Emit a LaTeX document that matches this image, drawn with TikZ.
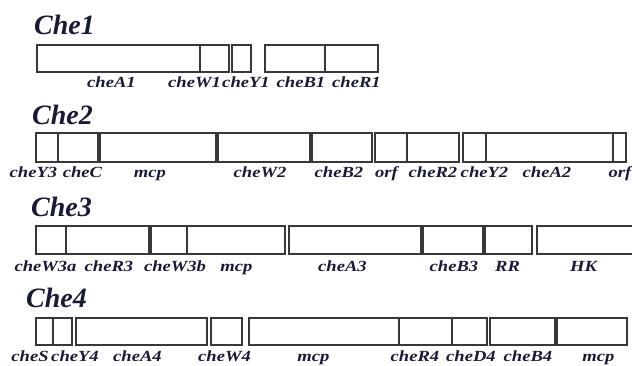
\documentclass[tikz,border=0pt]{standalone}
\usepackage{fontspec}
\setmainfont{Liberation Serif}
\usepackage{graphicx}
\definecolor{ink}{rgb}{0.1,0.1,0.22}
\definecolor{edge}{rgb}{0.22,0.22,0.22}
\tikzset{
  gene/.style={draw=edge, line width=1.4pt, fill=white},
  lab/.style={inner sep=0pt, anchor=base, text=ink, font=\bfseries\itshape\fontsize{15.5}{16}\selectfont},
  ttl/.style={inner sep=0pt, anchor=base west, text=ink, font=\bfseries\itshape\fontsize{28}{28}\selectfont}
}
\newcommand\gbox[4]{\draw[gene] (#1,#3) rectangle (#2,#4);}
\newcommand\glab[5]{\node[lab] (#1) at ({(#2+#3)/2},#4) {\scalebox{1.2}[1]{#5}};}
\begin{document}
\begin{tikzpicture}[x=1pt,y=-1pt]
\useasboundingbox (0,0) rectangle (632,366);
\clip (0,0) rectangle (632,366);
% titles
\node[ttl] (t1) at (34,35) {Che1};
\node[ttl] (t2) at (32,125) {Che2};
\node[ttl] (t3) at (31,217) {Che3};
\node[ttl] (t4) at (26,307) {Che4};
% row 1
\gbox{37}{200}{45}{72}
\gbox{200}{229}{45}{72}
\gbox{232}{251}{45}{72}
\gbox{265}{325}{45}{72}
\gbox{325}{378}{45}{72}
\glab{a1}{87}{136}{88}{cheA1}
\glab{w1}{167}{222}{88}{cheW1}
\glab{y1}{222}{270}{88}{cheY1}
\glab{b1}{277}{325}{88}{cheB1}
\glab{r1}{333}{380}{88}{cheR1}
% row 2
\gbox{36}{58}{133}{162}
\gbox{58}{98}{133}{162}
\gbox{100}{216}{133}{162}
\gbox{218}{310}{133}{162}
\gbox{312}{372}{133}{162}
\gbox{375}{407}{133}{162}
\gbox{407}{459}{133}{162}
\gbox{463}{486}{133}{162}
\gbox{486}{613}{133}{162}
\gbox{613}{626}{133}{162}
\glab{y3}{12}{55}{178}{cheY3}
\glab{c2}{60}{105}{178}{cheC}
\glab{m2}{135}{165}{178}{mcp}
\glab{w2}{233}{287}{178}{cheW2}
\glab{b2}{313}{365}{178}{cheB2}
\glab{o2}{373}{400}{178}{orf}
\glab{r2}{408}{458}{178}{cheR2}
\glab{y2}{459}{510}{178}{cheY2}
\glab{a2}{522}{572}{178}{cheA2}
\glab{o2b}{605}{635}{178}{orf}
% row 3
\gbox{36}{66}{226}{254}
\gbox{66}{149}{226}{254}
\gbox{151}{187}{226}{254}
\gbox{187}{285}{226}{254}
\gbox{289}{421}{226}{254}
\gbox{423}{483}{226}{254}
\gbox{485}{532}{226}{254}
\gbox{537}{645}{226}{254}
\glab{w3a}{13}{78}{272}{cheW3a}
\glab{r3}{88}{130}{272}{cheR3}
\glab{w3b}{143}{207}{272}{cheW3b}
\glab{m3}{220}{253}{272}{mcp}
\glab{a3}{317}{368}{272}{cheA3}
\glab{b3}{430}{478}{272}{cheB3}
\glab{rr}{495}{520}{272}{RR}
\glab{hk}{570}{597}{272}{HK}
% row 4
\gbox{36}{53}{318}{345}
\gbox{53}{72}{318}{345}
\gbox{76}{207}{318}{345}
\gbox{211}{242}{318}{345}
\gbox{249}{399}{318}{345}
\gbox{399}{452}{318}{345}
\gbox{452}{487}{318}{345}
\gbox{490}{555}{318}{345}
\gbox{557}{627}{318}{345}
\glab{s4}{10}{50}{361}{cheS}
\glab{y4}{52}{98}{361}{cheY4}
\glab{a4}{112}{163}{361}{cheA4}
\glab{w4}{197}{252}{361}{cheW4}
\glab{m4}{297}{330}{361}{mcp}
\glab{r4}{388}{442}{361}{cheR4}
\glab{d4}{445}{497}{361}{cheD4}
\glab{b4}{503}{553}{361}{cheB4}
\glab{m4b}{582}{615}{361}{mcp}
\end{tikzpicture}
\end{document}
